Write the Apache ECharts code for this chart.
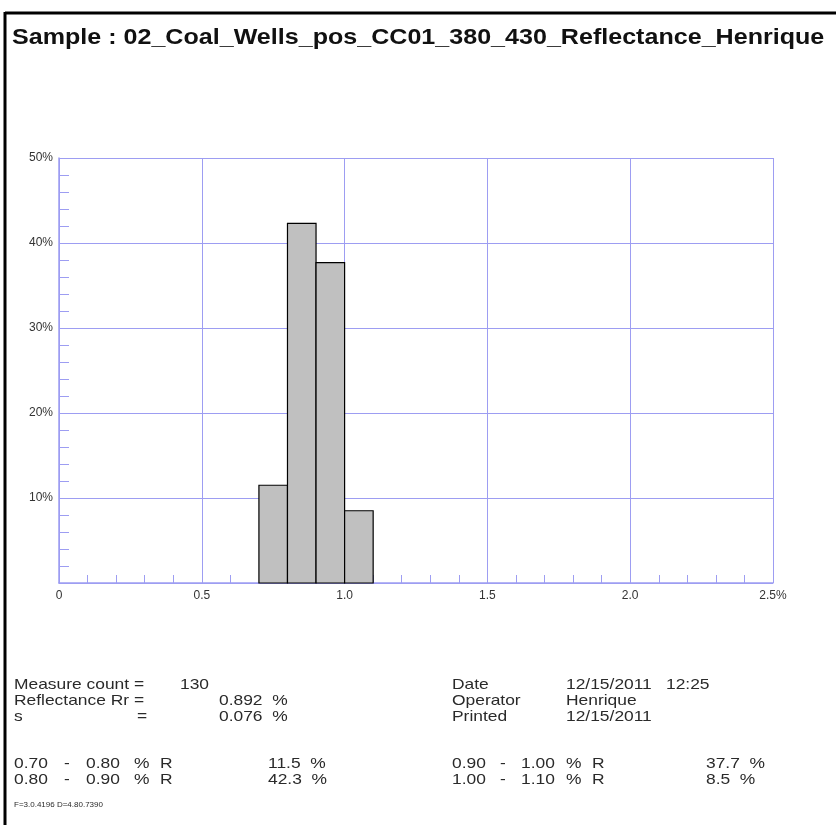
<!DOCTYPE html>
<html><head><meta charset="utf-8">
<script src="https://cdn.jsdelivr.net/npm/echarts@6/dist/echarts.min.js"></script>
<style>html,body{margin:0;padding:0;background:#fff}#c{width:836px;height:825px}</style>
</head><body><div id="c"></div>
<script>
// ---- data ----
const titleText = 'Sample : 02_Coal_Wells_pos_CC01_380_430_Reflectance_Henrique';
const binStart = [0.70, 0.80, 0.90, 1.00];
const binEnd = [0.80, 0.90, 1.00, 1.10];
const binPercent = [11.5, 42.3, 37.7, 8.5];
const xTickLabels = ['0', '0.5', '1.0', '1.5', '2.0', '2.5%'];
const yTickLabels = ['', '10%', '20%', '30%', '40%', '50%'];
const measureCount = '130';
const reflectanceRr = '0.892';
const sValue = '0.076';
const dateText = '12/15/2011';
const timeText = '12:25';
const operatorText = 'Henrique';
const printedText = '12/15/2011';
const footerText = 'F=3.0.4196 D=4.80.7390';

// ---- chart ----
const chart = echarts.init(document.getElementById('c'), null, {renderer: 'canvas'});
const blue = '#9d9df2';
const txt = '#2a2a2a';
const SX = 1.16;
const BODY = 'Liberation Sans, Arial, Helvetica, sans-serif';

function T(x, y, s, size, opts) {
  opts = opts || {};
  return {
    type: 'text', x: x, y: y, scaleX: opts.sx || SX, silent: true,
    style: {text: s, font: (opts.bold ? 'bold ' : '') + size + 'px ' + BODY,
            fill: opts.fill || txt, textVerticalAlign: 'middle', textAlign: 'left'}
  };
}

const fmt2 = v => v.toFixed(2);
const rowsY = [685, 701, 717];
const rangeY = [764, 780];
const FS = 15;

const g = [];
// frame
g.push({type: 'line', shape: {x1: 5, y1: 13, x2: 836, y2: 13}, style: {stroke: '#000', lineWidth: 3}, silent: true});
g.push({type: 'line', shape: {x1: 5, y1: 12, x2: 5, y2: 825}, style: {stroke: '#000', lineWidth: 3}, silent: true});
// title
g.push(T(12, 38, titleText, 22, {bold: true, sx: 1.14, fill: '#111'}));
// left info
g.push(T(14, rowsY[0], 'Measure count =', FS));
g.push(T(180, rowsY[0], measureCount, FS));
g.push(T(14, rowsY[1], 'Reflectance Rr =', FS));
g.push(T(219, rowsY[1], reflectanceRr + '  %', FS));
g.push(T(14, rowsY[2], 's', FS));
g.push(T(137, rowsY[2], '=', FS));
g.push(T(219, rowsY[2], sValue + '  %', FS));
// right info
g.push(T(452, rowsY[0], 'Date', FS));
g.push(T(566, rowsY[0], dateText, FS));
g.push(T(666, rowsY[0], timeText, FS));
g.push(T(452, rowsY[1], 'Operator', FS));
g.push(T(566, rowsY[1], operatorText, FS));
g.push(T(452, rowsY[2], 'Printed', FS));
g.push(T(566, rowsY[2], printedText, FS));
// range rows
const colX = [[14, 64, 86, 134, 160, 268], [452, 500, 521, 566, 592, 706]];
for (let i = 0; i < binStart.length; i++) {
  const c = colX[Math.floor(i / 2)];
  const y = rangeY[i % 2];
  g.push(T(c[0], y, fmt2(binStart[i]), FS));
  g.push(T(c[1], y, '-', FS));
  g.push(T(c[2], y, fmt2(binEnd[i]), FS));
  g.push(T(c[3], y, '%', FS));
  g.push(T(c[4], y, 'R', FS));
  g.push(T(c[5], y, binPercent[i].toFixed(1) + '  %', FS));
}
g.push(T(14, 805, footerText, 8, {sx: 1.0}));

const xTickValues = [0, 0.5, 1.0, 1.5, 2.0, 2.5];
const yTickValues = [0, 10, 20, 30, 40, 50];

const option = {
  animation: false,
  backgroundColor: '#fff',
  grid: {left: 59, right: 63, top: 158, bottom: 242, containLabel: false},
  xAxis: {
    type: 'value', min: 0, max: 2.5, interval: 0.5,
    axisLine: {show: true, lineStyle: {color: blue, width: 1.5}},
    axisTick: {show: false, inside: true},
    minorTick: {show: true, splitNumber: 5, length: 8, lineStyle: {color: blue, width: 1}},
    splitLine: {show: true, lineStyle: {color: [blue], width: 1, opacity: 1}},
    axisLabel: {margin: 7, color: '#333', fontSize: 12, fontFamily: 'Liberation Sans',
      formatter: v => { const i = xTickValues.findIndex(t => Math.abs(t - v) < 1e-6); return i >= 0 ? xTickLabels[i] : ''; }}
  },
  yAxis: {
    type: 'value', min: 0, max: 50, interval: 10,
    axisLine: {show: true, lineStyle: {color: blue, width: 1.5}},
    axisTick: {show: false, inside: true},
    minorTick: {show: true, splitNumber: 5, length: 10, lineStyle: {color: blue, width: 1}},
    splitLine: {show: true, lineStyle: {color: [blue], width: 1, opacity: 1}},
    axisLabel: {margin: 6, color: '#333', fontSize: 12, fontFamily: 'Liberation Sans',
      formatter: v => { const i = yTickValues.findIndex(t => Math.abs(t - v) < 1e-6); return i >= 0 ? yTickLabels[i] : ''; }}
  },
  series: [{
    type: 'custom',
    data: binStart.map((s, i) => [s, binEnd[i], binPercent[i]]),
    encode: {x: [0, 1], y: 2},
    renderItem: function (params, api) {
      const p0 = api.coord([api.value(0), api.value(2)]);
      const p1 = api.coord([api.value(1), 0]);
      return {
        type: 'rect',
        shape: {x: p0[0], y: p0[1], width: p1[0] - p0[0], height: p1[1] - p0[1]},
        style: {fill: '#c0c0c0', stroke: '#000', lineWidth: 1.2}
      };
    }
  }],
  graphic: g
};
chart.setOption(option);
</script>
</body></html>
